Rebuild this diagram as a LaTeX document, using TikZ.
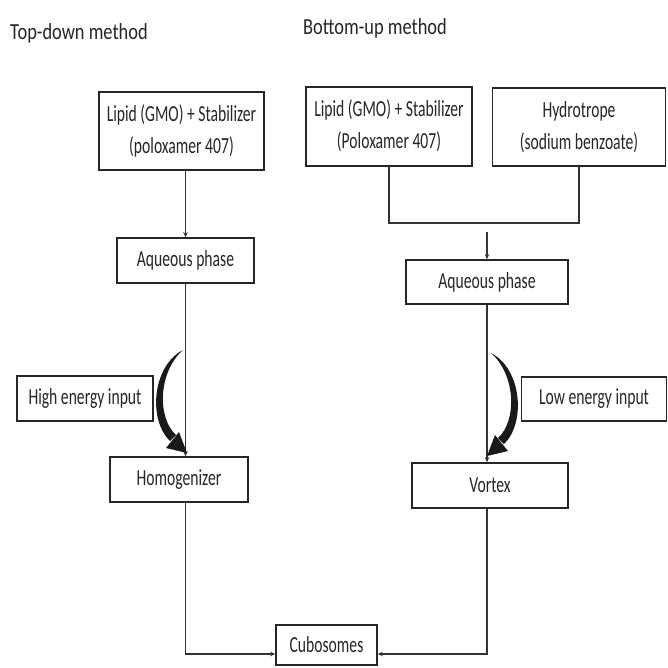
\documentclass[tikz,border=0pt]{standalone}
\usepackage{fontspec}
\setmainfont{Carlito}
\usetikzlibrary{arrows.meta}
\newcommand\sx[1]{\scalebox{0.68}[1]{#1}}
\newcommand\twoline[2]{\sx{\begin{tabular}{@{}c@{}}#1\\#2\end{tabular}}}
\begin{document}
\begin{tikzpicture}[x=1pt,y=-1pt,
  box/.style={draw=black!85, line width=1.6pt, inner sep=0pt, font=\fontsize{23}{32}\selectfont, text=black!85},
  link/.style={draw=black!80, line width=1.2pt},
  arr/.style={link,-{Stealth[length=5pt,width=4.5pt]}},
  ttl/.style={inner sep=0pt, font=\fontsize{23}{26}\selectfont, text=black!85},
  cres/.style={fill=black!90}]
\useasboundingbox (0,0) rectangle (668,667);
% titles
\node[ttl] (t1) at (79,33) {\scalebox{0.8}[1]{Top-down method}};
\node[ttl] (t2) at (375,28) {\scalebox{0.8}[1]{Bottom-up method}};
% boxes
\node[box, minimum width=165pt, minimum height=78pt] (L1) at (181.5,131) {\twoline{Lipid (GMO) + Stabilizer}{(poloxamer 407)}};
\node[box, minimum width=166pt, minimum height=79pt] (M1) at (389,126.5) {\twoline{Lipid (GMO) + Stabilizer}{(Poloxamer 407)}};
\node[box, minimum width=173pt, minimum height=78pt] (R1) at (579,127) {\twoline{Hydrotrope}{(sodium benzoate)}};
\node[box, minimum width=137pt, minimum height=45pt] (LA) at (185.5,260.5) {\sx{Aqueous phase}};
\node[box, minimum width=162pt, minimum height=44pt] (RA) at (487,282) {\sx{Aqueous phase}};
\node[box, minimum width=136pt, minimum height=45pt] (HE) at (85,398.5) {\sx{High energy input}};
\node[box, minimum width=145pt, minimum height=44pt] (LE) at (594,399) {\sx{Low energy input}};
\node[box, minimum width=138pt, minimum height=45pt] (HO) at (179,479.5) {\sx{Homogenizer}};
\node[box, minimum width=156pt, minimum height=45pt] (VO) at (490,485.5) {\sx{Vortex}};
\node[box, minimum width=101pt, minimum height=40pt] (CU) at (326.5,645) {\sx{Cubosomes}};
% connectors, left
\draw[arr] (LA|-L1.south) -- (LA.north);
\draw[arr] (LA.south) -- (LA.south|-HO.north);
\draw[arr] (LA|-HO.south) |- ([yshift=-9pt]CU.west);
% connectors, right
\coordinate (J) at (487,223);
\coordinate (J2) at (487,232);
\draw[link] (M1.south) -- (M1.south|-J) -- (R1.south|-J) -- (R1.south);
\draw[arr] (J2) -- (RA.north);
\draw[arr] (RA.south) -- (RA.south|-VO.north);
\draw[arr] (RA|-VO.south) |- ([yshift=-9pt]CU.east);
% curved energy arrows
\fill[cres] (183,350) .. controls (152,366) and (148,420) .. (170,441)
  -- (176,435) .. controls (157,418) and (158,372) .. (183,350) -- cycle;
\fill[cres] (187,453) -- (166,448) -- (179,432) -- cycle;
\begin{scope}[xshift=674pt, xscale=-1, yshift=-3pt]
\fill[cres] (183,350) .. controls (152,366) and (148,420) .. (170,441)
  -- (176,435) .. controls (157,418) and (158,372) .. (183,350) -- cycle;
\fill[cres] (187,453) -- (166,448) -- (179,432) -- cycle;
\end{scope}
\end{tikzpicture}
\end{document}
